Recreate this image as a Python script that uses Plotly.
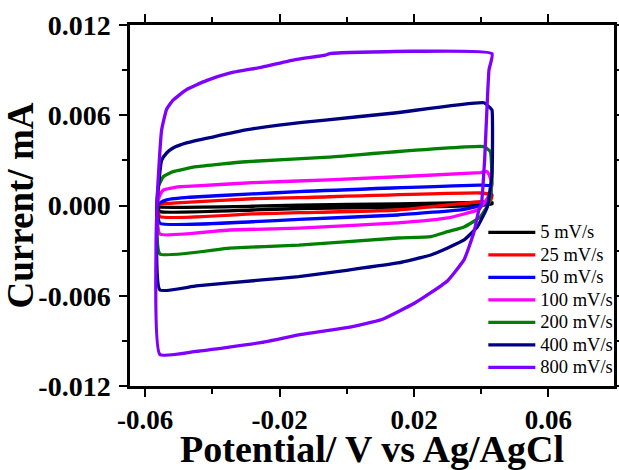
import plotly.graph_objects as go

labels = ["5 mV/s", "25 mV/s", "50 mV/s", "100 mV/s", "200 mV/s", "400 mV/s", "800 mV/s"]
colors = ["#000000", "#FF0000", "#0000FF", "#FF00FF", "#008000", "#000080", "#7F00FF"]

# potential (V) and current (mA) for each scan rate, closed CV loops
x_5 = [-0.0565, -0.0556, -0.0281, -0.0143, 0.0150, 0.0397, 0.0432, 0.0432, 0.0397, 0.0150, -0.0143, -0.0281, -0.0556, -0.0565]
y_5 = [0.0000, -0.0001, -0.00005, 0.00003, 0.0001, 0.0002, 0.0002, 0.0001, 0.0000, -0.0001, -0.0002, -0.0003, -0.0004, 0.0000]

x_25 = [-0.0565, -0.0546, -0.0467, -0.0281, -0.0143, 0.0397, 0.0432, 0.0427, 0.0397, 0.0152, -0.0143, -0.0281, -0.0556, -0.0565]
y_25 = [0.0000, 0.00011, 0.00022, 0.00045, 0.00052, 0.00083, 0.0007, 0.0003, 0.00025, -0.00030, -0.00048, -0.00056, -0.00074, 0.0000]

x_50 = [-0.0565, -0.0556, -0.0536, -0.0467, -0.0281, -0.0143, 0.0397, 0.0427, 0.0429, 0.0418, 0.0397, 0.0349, 0.0152, -0.0143, -0.0281, -0.0556, -0.0565]
y_50 = [0.0000, 0.00017, 0.00037, 0.00055, 0.00077, 0.00092, 0.00136, 0.0013, 0.0007, 0.00023, 0.0000, -0.00025, -0.00063, -0.00092, -0.00108, -0.00118, 0.0000]

x_100 = [-0.0565, -0.0556, -0.0546, -0.0497, -0.0448, -0.0281, -0.0054, 0.0397, 0.0418, 0.0432, 0.0427, 0.0409, 0.0388, 0.0300, 0.0152, -0.0143, -0.0349, -0.0556, -0.0565]
y_100 = [0.0000, 0.00070, 0.00103, 0.00125, 0.00130, 0.00152, 0.00170, 0.00218, 0.00225, 0.00150, 0.00083, 0.00017, -0.00030, -0.00083, -0.00116, -0.00150, -0.00163, -0.00190, 0.0000]

x_200 = [-0.0565, -0.0561, -0.0546, -0.0517, -0.0447, -0.0300, -0.0054, 0.0408, 0.0427, 0.0432, 0.0423, 0.0397, 0.0349, 0.0300, 0.0250, 0.0152, -0.0143, -0.0349, -0.0556, -0.0565]
y_200 = [0.0000, 0.00125, 0.00191, 0.00225, 0.00258, 0.00291, 0.00322, 0.00391, 0.00358, 0.00170, 0.00017, -0.00076, -0.00143, -0.00174, -0.00207, -0.00216, -0.00263, -0.00283, -0.00322, 0.0000]

x_400 = [-0.0565, -0.0551, -0.0536, -0.0517, -0.0477, -0.0399, -0.0300, -0.0202, -0.0064, 0.0142, 0.0408, 0.0427, 0.0432, 0.0432, 0.0418, 0.0388, 0.0349, 0.0300, 0.0250, 0.0152, 0.0005, -0.0143, -0.0252, -0.0448, -0.0556, -0.0565]
y_400 = [-0.0001, 0.0030, 0.00349, 0.00382, 0.00416, 0.00455, 0.00502, 0.00535, 0.00568, 0.00615, 0.00683, 0.00648, 0.00635, 0.00216, -0.0001, -0.00143, -0.00229, -0.00282, -0.00329, -0.00382, -0.00429, -0.00473, -0.00495, -0.00535, -0.00562, -0.0001]

x_800 = [-0.0565, -0.0551, -0.0536, -0.0517, -0.0477, -0.0418, -0.0349, -0.0252, -0.0153, -0.0064, -0.0050, 0.0432, 0.0423, 0.0410, 0.0400, 0.0393, 0.0378, 0.0349, 0.0300, 0.0250, 0.0201, 0.0102, 0.0005, -0.0054, -0.0143, -0.0252, -0.0448, -0.0556, -0.0565]
y_800 = [-0.0001, 0.0050, 0.0064, 0.0070, 0.0077, 0.0083, 0.0088, 0.0092, 0.0097, 0.0100, 0.0101, 0.0101, 0.0090, 0.0030, 0.0000, -0.0003, -0.0018, -0.0036, -0.0050, -0.0058, -0.0065, -0.0076, -0.0081, -0.0083, -0.0086, -0.0091, -0.0097, -0.0099, -0.0001]

xs = [x_5, x_25, x_50, x_100, x_200, x_400, x_800]
ys = [y_5, y_25, y_50, y_100, y_200, y_400, y_800]

x_tickvals = [-0.06, -0.02, 0.02, 0.06]
x_ticktext = ["-0.06", "-0.02", "0.02", "0.06"]
y_tickvals = [-0.012, -0.006, 0.0, 0.006, 0.012]
y_ticktext = ["-0.012", "-0.006", "0.000", "0.006", "0.012"]

fig = go.Figure()
for xv, yv, name, c in zip(xs, ys, labels, colors):
    fig.add_trace(go.Scatter(x=xv, y=yv, mode="lines",
                             name='<span style="font-size:18.5px">' + name + '</span>',
                             line=dict(color=c, width=3.3, shape="spline", smoothing=0.4)))

font_serif = "Liberation Serif, Times New Roman, serif"
fig.update_layout(
    width=619, height=470,
    margin=dict(l=130, r=1, t=25, b=84),
    plot_bgcolor="white", paper_bgcolor="white",
    font=dict(family=font_serif, color="black"),
    legend=dict(x=0.73, y=0.005, xanchor="left", yanchor="bottom",
                bgcolor="rgba(0,0,0,0)", font=dict(family=font_serif, size=15, color="black"),
                itemwidth=47, tracegroupgap=0),
    xaxis=dict(range=[-0.0645, 0.0795], tickvals=x_tickvals, ticktext=x_ticktext,
               showline=True, linewidth=2.5, linecolor="black", mirror="ticks",
               ticks="outside", ticklen=8, tickwidth=2, tickcolor="black",
               minor=dict(tickvals=[-0.04, 0.0, 0.04], ticks="outside", ticklen=5, tickwidth=2, tickcolor="black"),
               showgrid=False, zeroline=False, automargin=False,
               tickfont=dict(family=font_serif, size=27, color="black", weight="bold"),
               title=dict(text="Potential/ V vs Ag/AgCl", standoff=3,
                          font=dict(family=font_serif, size=38, color="black", weight="bold"))),
    yaxis=dict(range=[-0.012, 0.012], tickvals=y_tickvals, ticktext=y_ticktext,
               showline=True, linewidth=2.5, linecolor="black", mirror="ticks",
               ticks="outside", ticklen=8, tickwidth=2, tickcolor="black",
               minor=dict(tickvals=[-0.009, -0.003, 0.003, 0.009], ticks="outside", ticklen=5, tickwidth=2, tickcolor="black"),
               showgrid=False, zeroline=False, automargin=False, ticklabelstandoff=3,
               tickfont=dict(family=font_serif, size=28, color="black", weight="bold"),
               title=dict(text="Current/ mA", standoff=0,
                          font=dict(family=font_serif, size=37, color="black", weight="bold"))),
)

fig.write_html("out.html", config={"displayModeBar": False},
               post_script="document.body.style.margin='0';document.body.style.overflow='hidden';")
